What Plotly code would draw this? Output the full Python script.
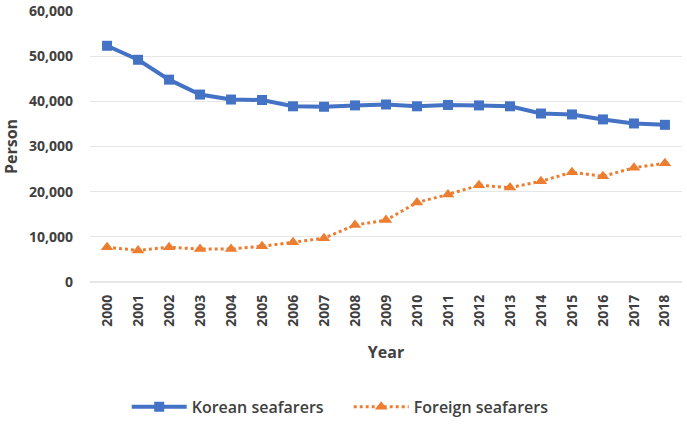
import plotly.graph_objects as go

years = [str(y) for y in range(2000, 2019)]
korean = [52300, 49200, 44800, 41500, 40400, 40300, 38900, 38800, 39100, 39300,
          38900, 39200, 39100, 38900, 37300, 37100, 36000, 35100, 34800]
foreign = [7700, 7000, 7700, 7300, 7300, 7900, 8800, 9700, 12600, 13700,
           17600, 19400, 21400, 20900, 22300, 24300, 23400, 25300, 26300]
y_ticks = [0, 10000, 20000, 30000, 40000, 50000, 60000]
y_tick_labels = ["0", "10,000", "20,000", "30,000", "40,000", "50,000", "60,000"]

fam = "Open Sans"
txt = "#404040"

fig = go.Figure()
fig.add_trace(go.Scatter(
    x=years, y=korean, name="Korean seafarers", mode="lines+markers",
    line=dict(color="#4472C4", width=4),
    marker=dict(symbol="square", size=10, color="#4472C4"),
))
fig.add_trace(go.Scatter(
    x=years, y=foreign, name="Foreign seafarers", mode="lines+markers",
    line=dict(color="#ED7D31", width=3, dash="dot"),
    marker=dict(symbol="triangle-up", size=11, color="#ED7D31"),
))

fig.update_layout(
    width=687, height=427,
    margin=dict(l=90, r=5, t=11, b=144),
    paper_bgcolor="white", plot_bgcolor="white",
    font=dict(family=fam, color=txt, size=14),
    showlegend=True,
    legend=dict(orientation="h", x=0.437, xanchor="center", y=-0.455, yanchor="middle",
                itemwidth=55, entrywidth=152, entrywidthmode="pixels",
                font=dict(size=16, color=txt, family=fam, weight=600)),
    xaxis=dict(
        type="category", tickangle=-90, range=[-0.55, 18.55], automargin=False,
        tickfont=dict(size=14, color=txt, family=fam, weight="bold"),
        showgrid=False, showline=False, ticks="", ticklabelstandoff=9,
        title=dict(text="<b>Year</b>", font=dict(size=16, color=txt), standoff=20),
    ),
    yaxis=dict(
        range=[0, 60000], tickvals=y_ticks, ticktext=y_tick_labels, automargin=False,
        tickfont=dict(size=14, color=txt, family=fam, weight="bold"),
        showgrid=True, gridcolor="#E6E6E6", gridwidth=1,
        zeroline=True, zerolinecolor="#E6E6E6", showline=False, ticks="",
        ticklabelstandoff=16,
        title=dict(text="<b>Person</b>", font=dict(size=16, color=txt), standoff=10),
    ),
)

fig.write_html("out.html")
